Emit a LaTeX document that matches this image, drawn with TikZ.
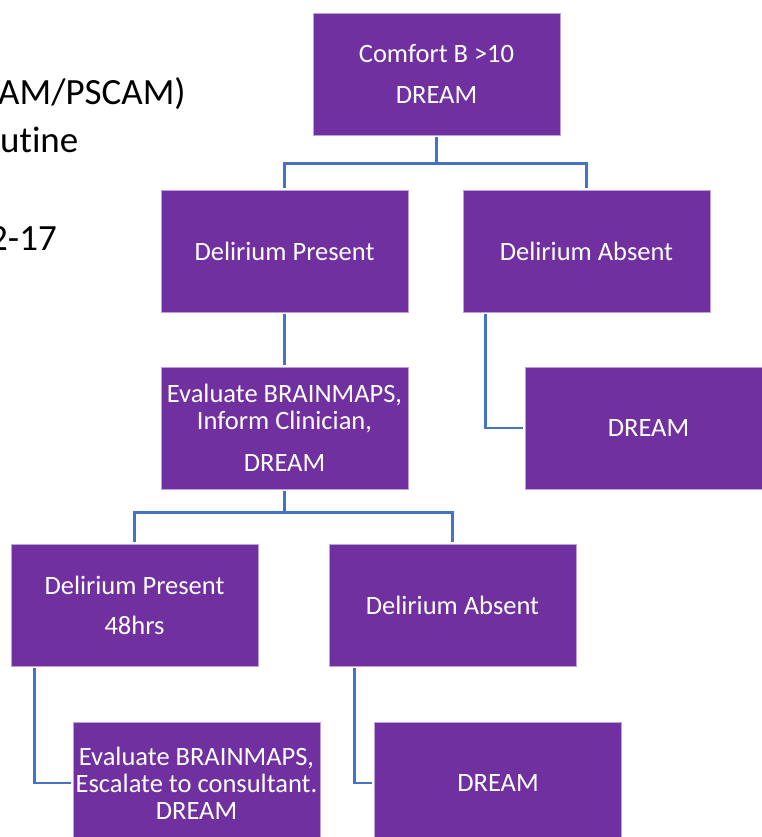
\documentclass[tikz,border=0pt]{standalone}
\usepackage{fontspec}
\setmainfont[Ligatures=NoCommon]{Carlito}
\usetikzlibrary{calc}
\definecolor{boxfill}{HTML}{7030A0}
\definecolor{boxedge}{HTML}{BBA3D8}
\definecolor{linkblue}{HTML}{4472C4}
\begin{document}
\begin{tikzpicture}[x=1pt,y=-1pt,
  box/.style={rectangle,fill=boxfill,draw=boxedge,line width=0.8pt,text=white,
    minimum width=247pt,minimum height=122pt,inner sep=0pt,align=center,
    font=\fontsize{26.5}{27}\selectfont},
  link/.style={draw=linkblue,line width=2.3pt,shorten <=2pt,shorten >=2pt},
  side/.style={anchor=base west,inner sep=0pt,font=\fontsize{37}{40}\selectfont}]
\useasboundingbox (0,0) rectangle (761,837);

% background text at the left edge
\node[side] (s1) at (-2,105) {AM/PSCAM)};
\node[side] (s2) at (0,153) {utine};
\node[side] (s3) at (-11,250) {2-17};

% boxes
\node[box] (top)    at (436.5,74)  {Comfort B >10\\[14pt]DREAM};
\node[box] (dp)     at (284.5,251) {Delirium Present};
\node[box] (da)     at (586.5,251) {Delirium Absent};
\node[box] (eval)   at (284.5,428) {Evaluate BRAINMAPS,\\Inform Clinician,\\[15pt]DREAM};
\node[box] (dream1) at (648.5,428) {DREAM};
\node[box] (dp2)    at (134.5,605) {Delirium Present\\[13pt]48hrs};
\node[box] (da2)    at (452.5,605) {Delirium Absent};
\node[box] (eval2)  at (196.5,783) {Evaluate BRAINMAPS,\\Escalate to consultant.\\DREAM};
\node[box] (dream3) at (498,783)   {DREAM};

% connectors
\draw[link] (top.south) -- ++(0,28) -| (dp.north);
\draw[link] (top.south) -- ++(0,28) -| (da.north);
\draw[link] (dp.south) -- (eval.north);
\draw[link] ($(da.south west)+(23,0)$) |- (dream1.west);
\draw[link] (eval.south) -- ++(0,23) -| (dp2.north);
\draw[link] (eval.south) -- ++(0,23) -| (da2.north);
\draw[link] ($(dp2.south west)+(24,0)$) |- (eval2.west);
\draw[link] ($(da2.south west)+(26,0)$) |- (dream3.west);
\end{tikzpicture}
\end{document}
